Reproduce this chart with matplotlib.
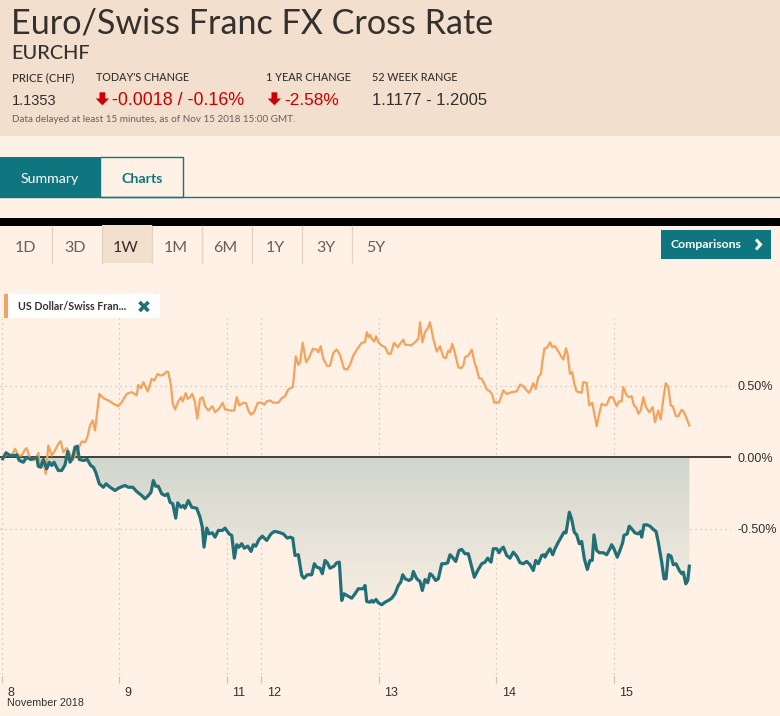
import numpy as np
import matplotlib
matplotlib.use("Agg")
import matplotlib.pyplot as plt
from matplotlib.patches import Rectangle, Polygon
from matplotlib.lines import Line2D
from matplotlib.transforms import ScaledTranslation

# ---------------- data ----------------
# x = trading hours since 8 Nov 2018 00:00 (weekend gap collapsed), y = % change
tick_hours = [0, 24, 46, 53, 77, 101, 125]
tick_labels = ["8", "9", "11", "12", "13", "14", "15"]
y_ticks = [0.5, 0.0, -0.5]
y_tick_labels = ["0.50%", "0.00%", "-0.50%"]

usd_hours = [0.37, 1.06, 2.08, 2.76, 3.43, 4.12, 4.80, 5.15, 5.82, 6.49,
             7.19, 7.51, 7.86, 8.21, 8.54, 9.03, 9.56, 10.25, 10.92, 11.60,
             12.09, 12.62, 13.31, 13.99, 14.54, 15.01, 15.68, 16.38, 17.05, 17.52,
             18.07, 18.62, 19.09, 19.97, 20.79, 21.81, 22.83, 23.85, 24.54, 25.57,
             26.59, 27.61, 27.93,
             28.49, 28.96, 29.85, 30.67, 31.20, 31.90, 32.37, 33.04, 33.73, 34.06,
             34.61, 34.96, 35.43, 36.10, 36.65, 37.00, 37.61, 38.02, 38.49, 38.96,
             39.51, 39.98, 40.53, 41.08, 41.56, 42.23, 43.05, 43.60, 44.41, 45.17,
             45.64, 46.66, 47.54, 48.03, 48.56, 49.38, 49.93, 50.40, 50.95, 51.56,
             52.32, 53.13, 53.66, 54.15, 54.83, 55.50,
             56.52, 57.22, 57.89, 58.57, 59.46, 59.73, 60.08, 60.61, 60.96, 61.51,
             62.18, 62.85, 63.55, 64.36, 64.69, 65.18, 65.71, 66.53, 67.08, 67.75,
             68.45, 69.12, 69.94, 70.61, 71.16, 71.84, 72.66, 73.55, 74.23, 74.58,
             74.98, 75.25, 75.60, 76.07, 76.48, 76.94, 77.64, 78.31, 78.99, 79.47,
             80.15, 80.90, 81.52, 82.05, 82.40, 83.07,
             83.62, 84.44, 85.11, 85.46, 85.93, 86.48, 87.03, 87.50, 88.17, 88.87,
             89.54, 90.22, 90.71, 91.24, 91.59, 92.05, 92.61, 93.28, 93.83, 94.30,
             94.65, 95.32, 96.02, 96.55, 97.04, 97.51, 98.06, 98.59, 99.08, 99.75,
             100.22, 100.63, 101.12, 101.59, 102.47, 103.16, 104.18, 105.20, 105.88, 106.55,
             107.24, 107.71, 108.12, 108.59, 109.08, 109.61, 110.16, 110.43, 110.84,
             111.45, 112.00, 112.47, 113.02, 113.70, 114.39, 114.72, 115.27, 115.61, 116.08,
             116.55, 116.96, 117.45, 118.47, 118.80, 119.49, 120.02, 120.63, 121.53, 122.06,
             122.55, 123.22, 123.57, 124.24, 124.79, 125.61, 126.08, 126.63, 126.96, 127.65,
             128.18, 128.67, 129.14, 129.71, 130.03, 130.52, 131.05, 131.60, 132.28, 132.97,
             133.44, 134.11, 134.60, 135.14, 135.63, 136.16, 136.65, 137.06, 137.73, 138.20,
             138.90, 139.37, 139.92, 140.45]
usd_values = [0.002, 0.019, 0.014, 0.061, 0.014, 0.014, 0.056, 0.065, -0.007, -0.021,
              0.002, 0.033, -0.056, -0.068, -0.033, -0.114, 0.084, 0.014, 0.049, 0.096,
              0.114, 0.037, 0.065, 0.026, -0.021, 0.014, 0.061, 0.112, 0.107, 0.142,
              0.224, 0.259, 0.189, 0.445, 0.415, 0.399, 0.376, 0.359, 0.387, 0.445,
              0.457, 0.434, 0.508,
              0.485, 0.527, 0.462, 0.550, 0.538, 0.585, 0.573, 0.578, 0.601, 0.597,
              0.503, 0.376, 0.336, 0.392, 0.422, 0.392, 0.450, 0.410, 0.422, 0.445,
              0.387, 0.271, 0.410, 0.422, 0.359, 0.329, 0.359, 0.317, 0.341, 0.383,
              0.336, 0.329, 0.329, 0.422, 0.364, 0.383, 0.380, 0.329, 0.299, 0.317,
              0.383, 0.383, 0.369, 0.392, 0.399, 0.383,
              0.383, 0.415, 0.429, 0.476, 0.492, 0.573, 0.708, 0.648, 0.666, 0.802,
              0.666, 0.701, 0.760, 0.755, 0.736, 0.778, 0.690, 0.638, 0.643, 0.732,
              0.755, 0.718, 0.620, 0.615, 0.648, 0.713, 0.760, 0.802, 0.806, 0.876,
              0.841, 0.858, 0.830, 0.811, 0.848, 0.806, 0.783, 0.771, 0.725, 0.725,
              0.802, 0.771, 0.802, 0.825, 0.788, 0.788,
              0.783, 0.806, 0.830, 0.946, 0.806, 0.876, 0.904, 0.946, 0.830, 0.741,
              0.778, 0.701, 0.694, 0.748, 0.736, 0.795, 0.725, 0.631, 0.624, 0.643,
              0.701, 0.713, 0.755, 0.671, 0.620, 0.555, 0.550, 0.515, 0.476, 0.462,
              0.438, 0.383, 0.387, 0.383, 0.469, 0.445, 0.457, 0.462, 0.510, 0.499,
              0.469, 0.452, 0.476, 0.520, 0.480, 0.562, 0.585, 0.666, 0.760,
              0.771, 0.806, 0.771, 0.778, 0.741, 0.701, 0.685, 0.764, 0.718, 0.585,
              0.597, 0.515, 0.462, 0.452, 0.527, 0.522, 0.364, 0.383, 0.219, 0.306,
              0.376, 0.364, 0.369, 0.422, 0.422, 0.359, 0.392, 0.392, 0.492, 0.434,
              0.422, 0.429, 0.364, 0.345, 0.306, 0.329, 0.422, 0.352, 0.317, 0.352,
              0.247, 0.329, 0.266, 0.410, 0.520, 0.492, 0.364, 0.359, 0.289, 0.289,
              0.334, 0.317, 0.271, 0.224]

eur_hours = [0.25, 0.92, 1.74, 2.76, 3.10, 3.63, 4.45, 5.15, 5.96, 6.64,
             7.19, 7.51, 8.00, 8.54, 9.23, 9.76, 10.25, 10.72, 11.13, 11.60,
             12.29, 12.97, 13.52, 13.99, 14.54, 15.01, 15.48, 15.89, 16.70, 17.52,
             18.21, 18.75, 19.24, 19.97, 20.79, 21.34, 22.16, 23.18, 23.85, 24.75,
             25.22, 25.89, 26.79, 27.61,
             28.63, 29.30, 29.98, 30.53, 31.00, 31.49, 32.02, 32.71, 33.39, 33.94,
             34.41, 34.96, 35.57, 35.98, 36.65, 37.12, 37.47, 38.14, 38.84, 39.86,
             40.53, 41.00, 41.35, 41.90, 42.37, 43.05, 43.60, 44.27, 45.09, 45.64,
             46.46, 47.01, 47.54, 48.03, 48.50, 49.05, 49.58, 50.28, 50.95, 51.42,
             51.91, 52.58, 53.25, 54.15, 55.03, 55.71,
             56.52, 57.54, 58.36, 58.91, 59.46, 59.93, 60.61, 61.30, 61.77, 62.45,
             63.34, 63.88, 64.36, 65.04, 65.51, 66.06, 66.53, 67.08, 67.90, 68.45,
             68.98, 69.47, 69.94, 70.82, 71.51, 72.19, 72.86, 73.88, 74.23, 74.58,
             75.25, 75.60, 75.93, 76.48, 76.94, 77.64, 78.31, 78.99, 79.68, 80.35,
             81.02, 81.52, 81.93, 82.40,
             83.21, 83.76, 84.09, 84.78, 85.46, 85.93, 86.48, 87.03, 87.50, 87.97,
             88.66, 89.20, 89.89, 90.56, 91.11, 91.59, 92.05, 92.75, 93.42, 93.97,
             94.65, 95.32, 96.02, 96.55, 97.24, 98.06, 98.73, 99.28, 99.95, 100.42,
             101.12, 101.59, 101.99, 102.47, 103.16, 103.84, 104.51, 105.20, 105.88, 106.55,
             107.24, 107.92, 108.59, 109.08, 109.61, 110.31, 110.84,
             110.97, 111.45, 112.00, 112.55, 113.02, 113.70, 114.39, 114.87, 115.27, 115.95,
             116.44, 116.96, 117.45, 117.98, 118.47, 119.01, 119.62, 120.16, 120.63, 120.98,
             121.53, 122.06, 122.87, 123.57, 124.24, 124.59, 125.06, 125.73, 126.28, 126.83,
             127.10, 127.77, 128.18, 128.67, 129.34, 130.03, 130.52, 130.72, 131.19, 131.75,
             132.42, 133.10, 133.65, 134.11, 134.81, 135.28, 135.69, 136.16, 136.71, 137.18,
             137.73, 138.41, 138.90, 139.23, 139.72, 140.13, 140.45]
eur_values = [-0.009, 0.033, 0.014, 0.014, 0.019, -0.021, -0.033, 0.002, -0.014, -0.005,
              0.002, -0.061, -0.068, -0.014, -0.079, -0.033, -0.056, -0.033, -0.061, -0.091,
              -0.091, -0.051, 0.042, -0.033, 0.002, 0.072, 0.079, -0.014, -0.021, -0.014,
              -0.056, -0.068, -0.103, -0.184, -0.208, -0.184, -0.208, -0.231, -0.215, -0.201,
              -0.196, -0.208, -0.208, -0.238,
              -0.266, -0.289, -0.266, -0.243, -0.161, -0.201, -0.201, -0.254, -0.266, -0.254,
              -0.313, -0.324, -0.424, -0.317, -0.348, -0.336, -0.355, -0.301, -0.348, -0.355,
              -0.417, -0.487, -0.627, -0.494, -0.534, -0.527, -0.557, -0.510, -0.510, -0.494,
              -0.534, -0.545, -0.704, -0.610, -0.627, -0.603, -0.634, -0.620, -0.657, -0.610,
              -0.620, -0.573, -0.550, -0.580, -0.534, -0.517,
              -0.522, -0.534, -0.564, -0.557, -0.564, -0.685, -0.680, -0.825, -0.844, -0.820,
              -0.820, -0.743, -0.767, -0.774, -0.813, -0.720, -0.736, -0.774, -0.760, -0.736,
              -0.732, -1.000, -0.953, -0.970, -0.984, -0.953, -0.918, -0.918, -0.895, -1.007,
              -1.012, -1.000, -1.012, -0.993, -1.016, -1.030, -1.012, -1.000, -0.984, -0.953,
              -0.895, -0.872, -0.820, -0.848,
              -0.860, -0.848, -0.797, -0.848, -0.867, -0.930, -0.853, -0.876, -0.813, -0.825,
              -0.860, -0.848, -0.743, -0.743, -0.736, -0.680, -0.697, -0.727, -0.650, -0.643,
              -0.673, -0.673, -0.767, -0.837, -0.790, -0.743, -0.732, -0.704, -0.732, -0.638,
              -0.638, -0.666, -0.643, -0.627, -0.685, -0.704, -0.662, -0.690, -0.736, -0.743,
              -0.727, -0.750, -0.790, -0.720, -0.743, -0.685, -0.680,
              -0.697, -0.666, -0.638, -0.680, -0.638, -0.592, -0.550, -0.522, -0.527, -0.383,
              -0.434, -0.522, -0.541, -0.603, -0.587, -0.708, -0.783, -0.720, -0.720, -0.541,
              -0.650, -0.666, -0.666, -0.680, -0.638, -0.610, -0.638, -0.697, -0.650, -0.597,
              -0.545, -0.534, -0.480, -0.499, -0.527, -0.534, -0.517, -0.557, -0.471, -0.471,
              -0.480, -0.503, -0.517, -0.592, -0.732, -0.848, -0.848, -0.680, -0.690, -0.750,
              -0.743, -0.790, -0.813, -0.802, -0.883, -0.860, -0.760]

# ---------------- style ----------------
BG = "#fff1e5"
HEAD_BG = "#f2dfce"
TEAL = "#0f7680"
LINE_TEAL = "#216f77"
ORANGE = "#f2a35e"
DARK = "#33302e"
GREY = "#66605c"
RED = "#cc0000"
HEAD_FONT = ["Lato", "DejaVu Sans"]
AX_FONT = ["Liberation Sans Narrow", "Liberation Sans", "DejaVu Sans"]

W, H = 780, 716
fig = plt.figure(figsize=(W / 100, H / 100), dpi=100, facecolor=BG)
renderer = fig.canvas.get_renderer()


def fx(x):
    return x / W


def fy(y):
    return 1 - y / H


def rect(x0, y0, x1, y1, **kw):
    fig.patches.append(Rectangle((fx(x0), fy(y1)), (x1 - x0) / W, (y1 - y0) / H,
                                 transform=fig.transFigure, **kw))


def poly(points, **kw):
    fig.patches.append(Polygon([(fx(a), fy(b)) for a, b in points], closed=True,
                               transform=fig.transFigure, **kw))


def seg(points, **kw):
    fig.lines.append(Line2D([fx(a) for a, b in points], [fy(b) for a, b in points],
                            transform=fig.transFigure, **kw))


def text(x, y, s, width=None, size=10, ha="left", va="baseline", family=HEAD_FONT, **kw):
    t = fig.text(fx(x), fy(y), s, size=size, ha=ha, va=va, family=family, **kw)
    if width:
        bb = t.get_window_extent(renderer)
        t.set_fontsize(size * width / bb.width)
    return t


# ---------------- header ----------------
rect(0, 0, W, 136, facecolor=HEAD_BG, edgecolor="none")
text(11, 33.5, "Euro/Swiss Franc FX Cross Rate", width=482, size=26, color=DARK)
text(11.5, 59, "EURCHF", width=79, size=16, color=DARK, weight="medium")
text(11.5, 81, "PRICE (CHF)", width=63, size=8, color=DARK, weight="medium")
text(96.5, 81, "TODAY'S CHANGE", width=93, size=8, color=DARK, weight="medium")
text(266.5, 81, "1 YEAR CHANGE", width=85, size=8, color=DARK, weight="medium")
text(372.5, 81, "52 WEEK RANGE", width=85.5, size=8, color=DARK, weight="medium")
text(11.5, 105, "1.1353", width=45, size=14, color=DARK, family=AX_FONT)
text(112.5, 105, "-0.0018 / -0.16%", width=133, size=14, color=RED, family=AX_FONT)
text(284, 105, "-2.58%", width=55, size=14, color=RED, family=AX_FONT)
text(372.5, 105, "1.1177 - 1.2005", width=115.5, size=14, color=DARK, family=AX_FONT)
text(11.5, 122.5, "Data delayed at least 15 minutes, as of Nov 15 2018 15:00 GMT.",
     width=283, size=7, color=GREY)
for ax0 in (95.7, 267.7):
    poly([(ax0 + 3.8, 92.3), (ax0 + 9.5, 92.3), (ax0 + 9.5, 98.5), (ax0 + 13.3, 98.5),
          (ax0 + 6.65, 105.3), (ax0, 98.5), (ax0 + 3.8, 98.5)],
         facecolor=RED, edgecolor="none")

# ---------------- tabs ----------------
rect(0, 157, 100, 197, facecolor=TEAL, edgecolor="none")
rect(100, 157, 183, 197, facecolor=BG, edgecolor=TEAL, linewidth=1)
seg([(0, 197.3), (W, 197.3)], color=TEAL, linewidth=1)
text(21, 183, "Summary", width=58.5, size=11, color="white")
text(121, 183, "Charts", width=41, size=11, color=TEAL, weight="bold")

rect(0, 217.5, W, 225.5, facecolor="black", edgecolor="none")
rect(102, 225.5, 152, 263, facecolor=HEAD_BG, edgecolor="none")
for sx in (52, 102, 152, 202, 252, 302, 352):
    seg([(sx, 226), (sx, 263)], color="#e3d3c4", linewidth=1)
periods = ["1D", "3D", "1W", "1M", "6M", "1Y", "3Y", "5Y"]
for i, p in enumerate(periods):
    text(25 + 50 * i + 0.5, 251.5, p, size=11.5, ha="center",
         color=DARK if p == "1W" else GREY)
rect(661, 230, 771, 259, facecolor=TEAL, edgecolor="none")
text(670.5, 248.5, "Comparisons", width=71.5, size=9.5, color="white", weight="bold")
seg([(756, 239.5), (760.5, 244.5), (756, 249.5)], color="white", linewidth=2.2,
    solid_capstyle="butt", solid_joinstyle="miter")

# ---------------- chart ----------------
ax = fig.add_axes([0, fy(683), 731 / W, (683 - 318) / H])
ax.set_facecolor("none")
for s in ax.spines.values():
    s.set_visible(False)
xmin, xmax = -0.31, 148.96
ymin, ymax = -1.577, 0.9755

grid_kw = dict(color="#c9bdb2", linewidth=0.9, linestyle=(0, (1, 3)))
for t in tick_hours:
    ax.axvline(t, ymin=0.025, ymax=1, zorder=0.5, **grid_kw)
for yv in y_ticks:
    if yv != 0:
        ax.axhline(yv, zorder=0.5, **grid_kw)

# gradient fill between EUR/CHF line and zero
c_top = np.array([0.80, 0.827, 0.792])
c_bot = np.array([0.985, 0.94, 0.893])
frac = np.linspace(0, 1, 256)[:, None, None]
grad = c_top * (1 - frac) + c_bot * frac
im = ax.imshow(grad, extent=[xmin, xmax, -1.12, 0.12], aspect="auto", origin="upper",
               zorder=1, interpolation="bilinear")
fillpoly = ax.fill_between(eur_hours, eur_values, 0, facecolor="none", edgecolor="none")
im.set_clip_path(fillpoly.get_paths()[0], transform=ax.transData)

ax.axhline(0, color=DARK, linewidth=1.3, zorder=2)
ax.plot(usd_hours, usd_values, color=ORANGE, linewidth=1.6, zorder=3,
        solid_joinstyle="round")
ax.plot(eur_hours, eur_values, color=LINE_TEAL, linewidth=2.3, zorder=4,
        solid_joinstyle="round")

ax.set_xlim(xmin, xmax)
ax.set_ylim(ymin, ymax)
ax.set_xticks(tick_hours)
ax.set_xticklabels(tick_labels, family=AX_FONT, fontsize=9, color=DARK, ha="left")
ax.tick_params(axis="x", direction="in", length=5, color="#cfc3b8", width=0.9, pad=3)
offset = ScaledTranslation(5.5 / 100, 0, fig.dpi_scale_trans)
for lab in ax.get_xticklabels():
    lab.set_transform(lab.get_transform() + offset)
ax.yaxis.tick_right()
ax.set_yticks(y_ticks)
ax.set_yticklabels(y_tick_labels, family=AX_FONT, fontsize=9, color=DARK)
ax.tick_params(axis="y", length=0, pad=5)

text(7, 706.5, "November 2018", width=76, size=9, color=DARK, family=AX_FONT)

# legend chip
rect(4, 294, 160, 318.5, facecolor="white", edgecolor="none")
rect(4, 294, 8, 318.5, facecolor=ORANGE, edgecolor="none")
text(17.7, 310, "US Dollar/Swiss Fran...", width=109, size=8, color=DARK, weight="bold")
seg([(139.5, 302), (148.5, 311)], color=LINE_TEAL, linewidth=2.6, solid_capstyle="butt")
seg([(139.5, 311), (148.5, 302)], color=LINE_TEAL, linewidth=2.6, solid_capstyle="butt")

fig.savefig("out.png", dpi=100, facecolor=BG)
